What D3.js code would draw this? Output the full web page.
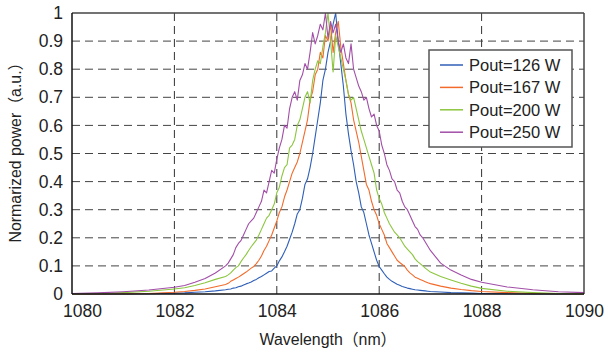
<!DOCTYPE html>
<html>
<head>
<meta charset="utf-8">
<script src="https://cdn.jsdelivr.net/npm/d3@7"></script>
<style>
  body { margin: 0; background: #fff; }
  svg { display: block; font-family: "Liberation Sans", Arial, "Noto Sans CJK JP", sans-serif; }
</style>
</head>
<body>
<div id="chart"></div>
<script>
// wavelength sampling (nm)
const wavelength = [
  1080, 1080.5, 1081, 1081.5, 1082, 1082.2, 1082.4, 1082.6, 1082.8,
  1083, 1083.05, 1083.1, 1083.15, 1083.2, 1083.25, 1083.3, 1083.35, 1083.4, 1083.45,
  1083.5, 1083.55, 1083.6, 1083.65, 1083.7, 1083.75, 1083.8, 1083.85, 1083.9, 1083.95,
  1084, 1084.05, 1084.1, 1084.15, 1084.2, 1084.25, 1084.3, 1084.35, 1084.4, 1084.45,
  1084.5, 1084.55, 1084.6, 1084.65, 1084.7, 1084.75, 1084.8, 1084.85, 1084.9, 1084.95,
  1085, 1085.05, 1085.1, 1085.15, 1085.2, 1085.25, 1085.3, 1085.35, 1085.4, 1085.45,
  1085.5, 1085.55, 1085.6, 1085.65, 1085.7, 1085.75, 1085.8, 1085.85, 1085.9, 1085.95,
  1086, 1086.05, 1086.1, 1086.15, 1086.2, 1086.25, 1086.3, 1086.35, 1086.4, 1086.45,
  1086.5, 1086.55, 1086.6, 1086.65, 1086.7, 1086.75, 1086.8, 1086.85, 1086.9, 1086.95,
  1087, 1087.2, 1087.4, 1087.6, 1087.8, 1088, 1088.5, 1089, 1089.5, 1090
];

// normalized power
const p126 = [
  0, 0, 0, .001, .003, .004, .006, .008, .011,
  .015, .017, .018, .021, .022, .026, .028, .032, .036, .039, .043, .048, .052, .058, .062, .068, .074, .08, .082, .092,
  .1, .118, .132, .15, .17, .195, .22, .25, .285, .3, .34, .39, .41, .45, .5, .56, .62, .68, .76, .8,
  .86, .9, .96, 1, .9, .82, .74, .64, .57, .51, .46, .4, .36, .31, .29, .25, .21, .18, .15, .12,
  .098, .085, .072, .06, .052, .045, .04, .035, .031, .027, .024, .021, .019, .017, .015, .014, .013, .012, .011, .01,
  .009, .007, .005, .004, .003, .002, .001, 0, 0, 0
];
const p167 = [
  0, 0, .001, .002, .006, .009, .013, .018, .026,
  .034, .038, .045, .05, .055, .06, .066, .072, .078, .085, .092, .098, .108, .12, .135, .155, .17, .19, .21, .235,
  .26, .29, .31, .345, .37, .4, .43, .45, .47, .5, .54, .58, .62, .69, .72, .78, .8, .86, .84, .92,
  .9, .96, .86, .93, .97, .88, .82, .76, .71, .68, .62, .58, .54, .49, .44, .39, .37, .33, .3, .28,
  .25, .23, .21, .18, .165, .15, .135, .12, .112, .105, .098, .085, .075, .068, .06, .056, .052, .048, .044, .04,
  .037, .028, .021, .016, .012, .009, .005, .002, .001, 0
];
const p200 = [
  0, .002, .005, .01, .018, .022, .03, .04, .052,
  .062, .068, .075, .085, .094, .1, .115, .128, .14, .155, .168, .18, .192, .21, .23, .25, .27, .28, .3, .32,
  .36, .38, .42, .45, .46, .52, .53, .55, .6, .62, .66, .7, .72, .68, .76, .8, .83, .82, .88, .93,
  1, .9, .79, .92, .88, .84, .8, .76, .71, .69, .7, .66, .62, .58, .55, .52, .49, .46, .43, .37,
  .34, .32, .29, .27, .25, .235, .22, .21, .2, .185, .17, .16, .15, .14, .125, .115, .108, .1, .092, .085,
  .078, .062, .05, .038, .028, .02, .01, .005, .002, .001
];
const p250 = [
  .002, .004, .008, .014, .024, .03, .042, .055, .075,
  .1, .11, .125, .14, .165, .18, .19, .21, .23, .25, .26, .27, .29, .31, .33, .37, .36, .4, .44, .43,
  .48, .52, .55, .6, .59, .66, .7, .72, .69, .76, .78, .82, .8, .86, .93, .89, .92, .96, .94, 1,
  .91, .97, .93, .96, .9, .86, .89, .84, .82, .89, .8, .77, .74, .72, .69, .7, .66, .63, .64, .6,
  .58, .53, .5, .46, .44, .41, .4, .37, .36, .33, .31, .3, .28, .26, .24, .23, .21, .2, .185, .17,
  .155, .11, .085, .068, .052, .042, .025, .015, .008, .005
];

const seriesNames = ["Pout=126 W", "Pout=167 W", "Pout=200 W", "Pout=250 W"];
const seriesValues = [p126, p167, p200, p250];
const seriesColors = ["#2f5fb7", "#f26b2b", "#8cc63f", "#a24ea8"];

const xTicks = [1080, 1082, 1084, 1086, 1088, 1090];
const yTicks = [0, 0.1, 0.2, 0.3, 0.4, 0.5, 0.6, 0.7, 0.8, 0.9, 1];

const W = 608, H = 349;
const margin = { top: 13, right: 24, bottom: 55, left: 72 };
const width = W - margin.left - margin.right,
    height = H - margin.top - margin.bottom;

const svg = d3.select("#chart")
  .append("svg")
  .attr("width", W)
  .attr("height", H);

const g = svg.append("g")
  .attr("transform", `translate(${margin.left}, ${margin.top})`);

const x = d3.scaleLinear().domain([1080, 1090]).range([0, width]);
const y = d3.scaleLinear().domain([0, 1]).range([height, 0]);

// dashed grid
g.selectAll(".vgrid")
  .data(xTicks.slice(1, -1))
  .join("line")
    .attr("x1", d => x(d)).attr("x2", d => x(d))
    .attr("y1", 0).attr("y2", height)
    .attr("stroke", "#333")
    .attr("stroke-dasharray", "8,5");

g.selectAll(".hgrid")
  .data(yTicks.slice(1, -1))
  .join("line")
    .attr("x1", 0).attr("x2", width)
    .attr("y1", d => y(d)).attr("y2", d => y(d))
    .attr("stroke", "#444")
    .attr("stroke-dasharray", "8,5");

// spectra
g.append("clipPath").attr("id", "clip")
  .append("rect").attr("width", width).attr("height", height + 1);

const line = d3.line()
  .x((d, i) => x(wavelength[i]))
  .y(d => y(d));

g.append("g").attr("clip-path", "url(#clip)")
  .selectAll("path")
  .data(seriesValues)
  .join("path")
    .attr("d", d => line(d))
    .attr("fill", "none")
    .attr("stroke", (d, i) => seriesColors[i])
    .attr("stroke-width", 1.1)
    .attr("stroke-linejoin", "round");

// frame
g.append("line").attr("x1", 0).attr("x2", width).attr("y1", 0).attr("y2", 0)
  .attr("stroke", "#444").attr("stroke-width", 1.5);
g.append("line").attr("x1", width).attr("x2", width).attr("y1", 0).attr("y2", height)
  .attr("stroke", "#444").attr("stroke-width", 1.5);
g.append("line").attr("x1", 0).attr("x2", 0).attr("y1", 0).attr("y2", height)
  .attr("stroke", "#111").attr("stroke-width", 1.5);
g.append("line").attr("x1", 0).attr("x2", width).attr("y1", height).attr("y2", height)
  .attr("stroke", "#111").attr("stroke-width", 1.5);

// axes
const xAxis = g.append("g")
  .attr("transform", `translate(0, ${height})`)
  .call(d3.axisBottom(x).tickValues(xTicks).tickSize(0).tickPadding(11).tickFormat(d3.format("d")));
xAxis.select(".domain").remove();
xAxis.selectAll("text")
  .attr("font-size", "17.5px")
  .attr("font-family", "Liberation Sans, Arial, sans-serif")
  .attr("fill", "#222")
  .attr("dx", d => d === 1080 ? 10 : 0);

const yAxis = g.append("g")
  .call(d3.axisLeft(y).tickValues(yTicks).tickSize(0).tickPadding(9).tickFormat(d => d3.format("~g")(d)));
yAxis.select(".domain").remove();
yAxis.selectAll("text")
  .attr("font-size", "17.5px")
  .attr("font-family", "Liberation Sans, Arial, sans-serif")
  .attr("fill", "#222");

// axis titles
svg.append("text")
  .attr("transform", `translate(21, ${margin.top + height / 2 - 5}) rotate(-90)`)
  .attr("text-anchor", "middle")
  .attr("font-size", "16px")
  .attr("fill", "#222")
  .attr("textLength", 188)
  .attr("lengthAdjust", "spacingAndGlyphs")
  .text("Normarized power（a.u.）");

svg.append("text")
  .attr("x", margin.left + width / 2)
  .attr("y", 345)
  .attr("text-anchor", "middle")
  .attr("font-size", "16px")
  .attr("fill", "#222")
  .attr("textLength", 137)
  .attr("lengthAdjust", "spacingAndGlyphs")
  .text("Wavelength（nm）");

// legend
const legend = svg.append("g").attr("transform", "translate(429, 50)");
legend.append("rect")
  .attr("width", 143).attr("height", 97)
  .attr("fill", "#fff")
  .attr("stroke", "#555").attr("stroke-width", 1.5);

const items = legend.selectAll(".item")
  .data(seriesNames)
  .join("g")
    .attr("transform", (d, i) => `translate(0, ${15 + i * 22.4})`);
items.append("line")
  .attr("x1", 11).attr("x2", 34)
  .attr("stroke", (d, i) => seriesColors[i])
  .attr("stroke-width", 1.5);
items.append("text")
  .attr("x", 40).attr("dy", "0.35em")
  .attr("font-size", "16.5px")
  .attr("fill", "#222")
  .text(d => d);
</script>
</body>
</html>
